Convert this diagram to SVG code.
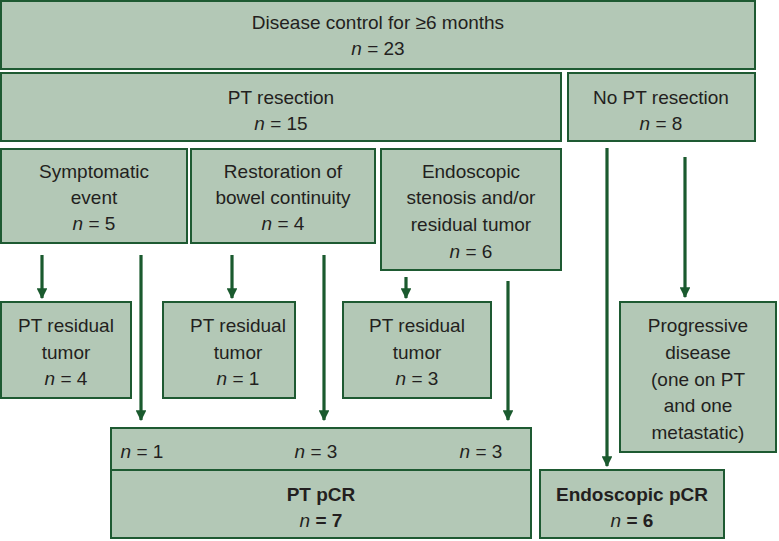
<svg xmlns="http://www.w3.org/2000/svg" width="779" height="541" viewBox="0 0 779 541">
<defs>
<style>
.box{fill:#b3c8b6;stroke:#1e5a32;stroke-width:2}
text{font-family:"Liberation Sans",Arial,sans-serif;font-size:19px;fill:#231f20;text-anchor:middle}
.b{font-weight:bold}
.i{font-style:italic;font-weight:normal}
.arr{stroke:#1a5a2e;stroke-width:3.2;fill:none;marker-end:url(#ah)}
</style>
<marker id="ah" viewBox="0 0 10 10" refX="9" refY="5" markerWidth="3.6" markerHeight="3.4" orient="auto" markerUnits="strokeWidth">
<path d="M0,0L10,5L0,10z" fill="#1a5a2e"/>
</marker>
</defs>
<rect width="779" height="541" fill="#fff"/>
<g id="connectors">
<line class="arr" x1="42" y1="255" x2="42" y2="298"/>
<line class="arr" x1="141" y1="255" x2="141" y2="420"/>
<line class="arr" x1="232" y1="255" x2="232" y2="298"/>
<line class="arr" x1="324" y1="255" x2="324" y2="420"/>
<line class="arr" x1="406" y1="277" x2="406" y2="298"/>
<line class="arr" x1="508" y1="281" x2="508" y2="420"/>
<line class="arr" x1="607" y1="148" x2="607" y2="466"/>
<line class="arr" x1="685" y1="157" x2="685" y2="297"/>
</g>
<g id="disease-control">
<rect class="box" x="1" y="1" width="754" height="68"/>
<text x="378" y="29">Disease control for ≥6 months</text>
<text x="378" y="55"><tspan class="i">n</tspan> = 23</text>
</g>
<g id="pt-resection">
<rect class="box" x="1" y="73" width="560" height="68"/>
<text x="281" y="104">PT resection</text>
<text x="281" y="130"><tspan class="i">n</tspan> = 15</text>
</g>
<g id="no-pt-resection">
<rect class="box" x="568" y="73" width="187" height="68"/>
<text x="661" y="104">No PT resection</text>
<text x="661" y="130"><tspan class="i">n</tspan> = 8</text>
</g>
<g id="symptomatic">
<rect class="box" x="1" y="149" width="186" height="94"/>
<text x="94" y="178">Symptomatic</text>
<text x="94" y="204">event</text>
<text x="94" y="230"><tspan class="i">n</tspan> = 5</text>
</g>
<g id="restoration">
<rect class="box" x="191" y="149" width="184" height="94"/>
<text x="283" y="178">Restoration of</text>
<text x="283" y="204">bowel continuity</text>
<text x="283" y="230"><tspan class="i">n</tspan> = 4</text>
</g>
<g id="endoscopic-stenosis">
<rect class="box" x="381" y="149" width="180" height="121"/>
<text x="471" y="178">Endoscopic</text>
<text x="471" y="204">stenosis and/or</text>
<text x="471" y="231">residual tumor</text>
<text x="471" y="258"><tspan class="i">n</tspan> = 6</text>
</g>
<g id="residual-1">
<rect class="box" x="1" y="302" width="130" height="96"/>
<text x="66" y="332">PT residual</text>
<text x="66" y="359">tumor</text>
<text x="66" y="385"><tspan class="i">n</tspan> = 4</text>
</g>
<g id="residual-2">
<rect class="box" x="163" y="302" width="132" height="96"/>
<text x="238" y="332">PT residual</text>
<text x="238" y="359">tumor</text>
<text x="238" y="385"><tspan class="i">n</tspan> = 1</text>
</g>
<g id="residual-3">
<rect class="box" x="343" y="302" width="148" height="96"/>
<text x="417" y="332">PT residual</text>
<text x="417" y="359">tumor</text>
<text x="417" y="385"><tspan class="i">n</tspan> = 3</text>
</g>
<g id="progressive">
<rect class="box" x="620" y="302" width="156" height="150"/>
<text x="698" y="332">Progressive</text>
<text x="698" y="359">disease</text>
<text x="698" y="386">(one on PT</text>
<text x="698" y="412">and one</text>
<text x="698" y="439">metastatic)</text>
</g>
<g id="pt-pcr">
<rect class="box" x="111" y="428" width="420" height="42"/>
<text x="142" y="458"><tspan class="i">n</tspan> = 1</text>
<text x="316" y="458"><tspan class="i">n</tspan> = 3</text>
<text x="481" y="458"><tspan class="i">n</tspan> = 3</text>
<rect class="box" x="111" y="470" width="420" height="68"/>
<text class="b" x="321" y="501">PT pCR</text>
<text class="b" x="321" y="527"><tspan class="i">n</tspan> = 7</text>
</g>
<g id="endoscopic-pcr">
<rect class="box" x="540" y="470" width="184" height="68"/>
<text class="b" x="632" y="501">Endoscopic pCR</text>
<text class="b" x="632" y="527"><tspan class="i">n</tspan> = 6</text>
</g>
</svg>
